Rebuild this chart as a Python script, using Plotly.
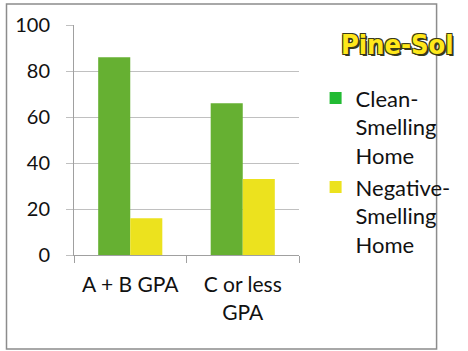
import plotly.graph_objects as go

categories = ["A + B GPA", "C or less<br>GPA"]
clean_vals = [86, 66]
negative_vals = [16, 33]
series_names = ["Clean-<br>Smelling<br>Home", "Negative-<br>Smelling<br>Home"]
bar_colors = ["#66B032", "#ECE21E"]
legend_colors = ["#22BB33", "#ECE21E"]
y_ticks = [0, 20, 40, 60, 80, 100]

W, H = 468, 351
ML, MR, MT, MB = 74, 150, 22, 96
PW, PH = W - ML - MR, H - MT - MB

FONT = "Lato, 'Open Sans', sans-serif"

fig = go.Figure()
for vals, col in zip([clean_vals, negative_vals], bar_colors):
    fig.add_trace(go.Bar(x=categories, y=vals, marker=dict(color=col, line=dict(width=0)),
                         showlegend=False))
for name, col in zip(series_names, legend_colors):
    fig.add_trace(go.Scatter(x=[None], y=[None], mode="markers", name=name,
                             marker=dict(symbol="square", size=13, color=col)))

def px_x(p):
    return (p - ML) / PW

def px_y(p):
    return (H - MB - p) / PH

fig.update_layout(
    width=W, height=H,
    margin=dict(l=ML, r=MR, t=MT, b=MB),
    paper_bgcolor="white", plot_bgcolor="white",
    barmode="group", bargap=0.43, bargroupgap=0,
    font=dict(family=FONT, size=20, color="#111111"),
    xaxis=dict(showgrid=False, showline=True, linecolor="#A0A0A0", linewidth=1,
               ticks="outside", tickson="boundaries", ticklen=7, tickcolor="#A0A0A0",
               tickfont=dict(size=21), ticklabelstandoff=11),
    yaxis=dict(range=[0, 100], tickvals=y_ticks, showgrid=True, gridcolor="#C0C0C0",
               showline=True, linecolor="#A0A0A0", linewidth=1,
               ticks="outside", ticklen=7, tickcolor="#C0C0C0",
               tickfont=dict(size=20), zeroline=False, ticklabelstandoff=12),
    legend=dict(x=px_x(336), y=px_y(75), xanchor="left", yanchor="top",
                font=dict(size=22), tracegroupgap=10, itemsizing="constant",
                valign="top", bgcolor="rgba(0,0,0,0)"),
    shapes=[dict(type="rect", xref="paper", yref="paper",
                 x0=px_x(0.8), x1=px_x(467.2), y0=px_y(350.2), y1=px_y(0.8),
                 line=dict(color="#8C8C8C", width=1.5), fillcolor="rgba(0,0,0,0)",
                 layer="below")],
    annotations=[dict(text="<b>Pine-Sol</b>", xref="paper", yref="paper",
                      x=px_x(410), y=px_y(42), xanchor="center", yanchor="middle",
                      xshift=13,
                      showarrow=False,
                      font=dict(family="'DejaVu Sans Condensed', 'Liberation Sans Narrow', sans-serif",
                                size=27, color="#FFE81A",
                                shadow="-1px -1px 0 #3A3A1A, 1px -1px 0 #3A3A1A, -1px 1px 0 #3A3A1A, 1px 1px 0 #3A3A1A, 2px 2px 0 #3A3A1A"))],
)

fig.write_html("out.html")
